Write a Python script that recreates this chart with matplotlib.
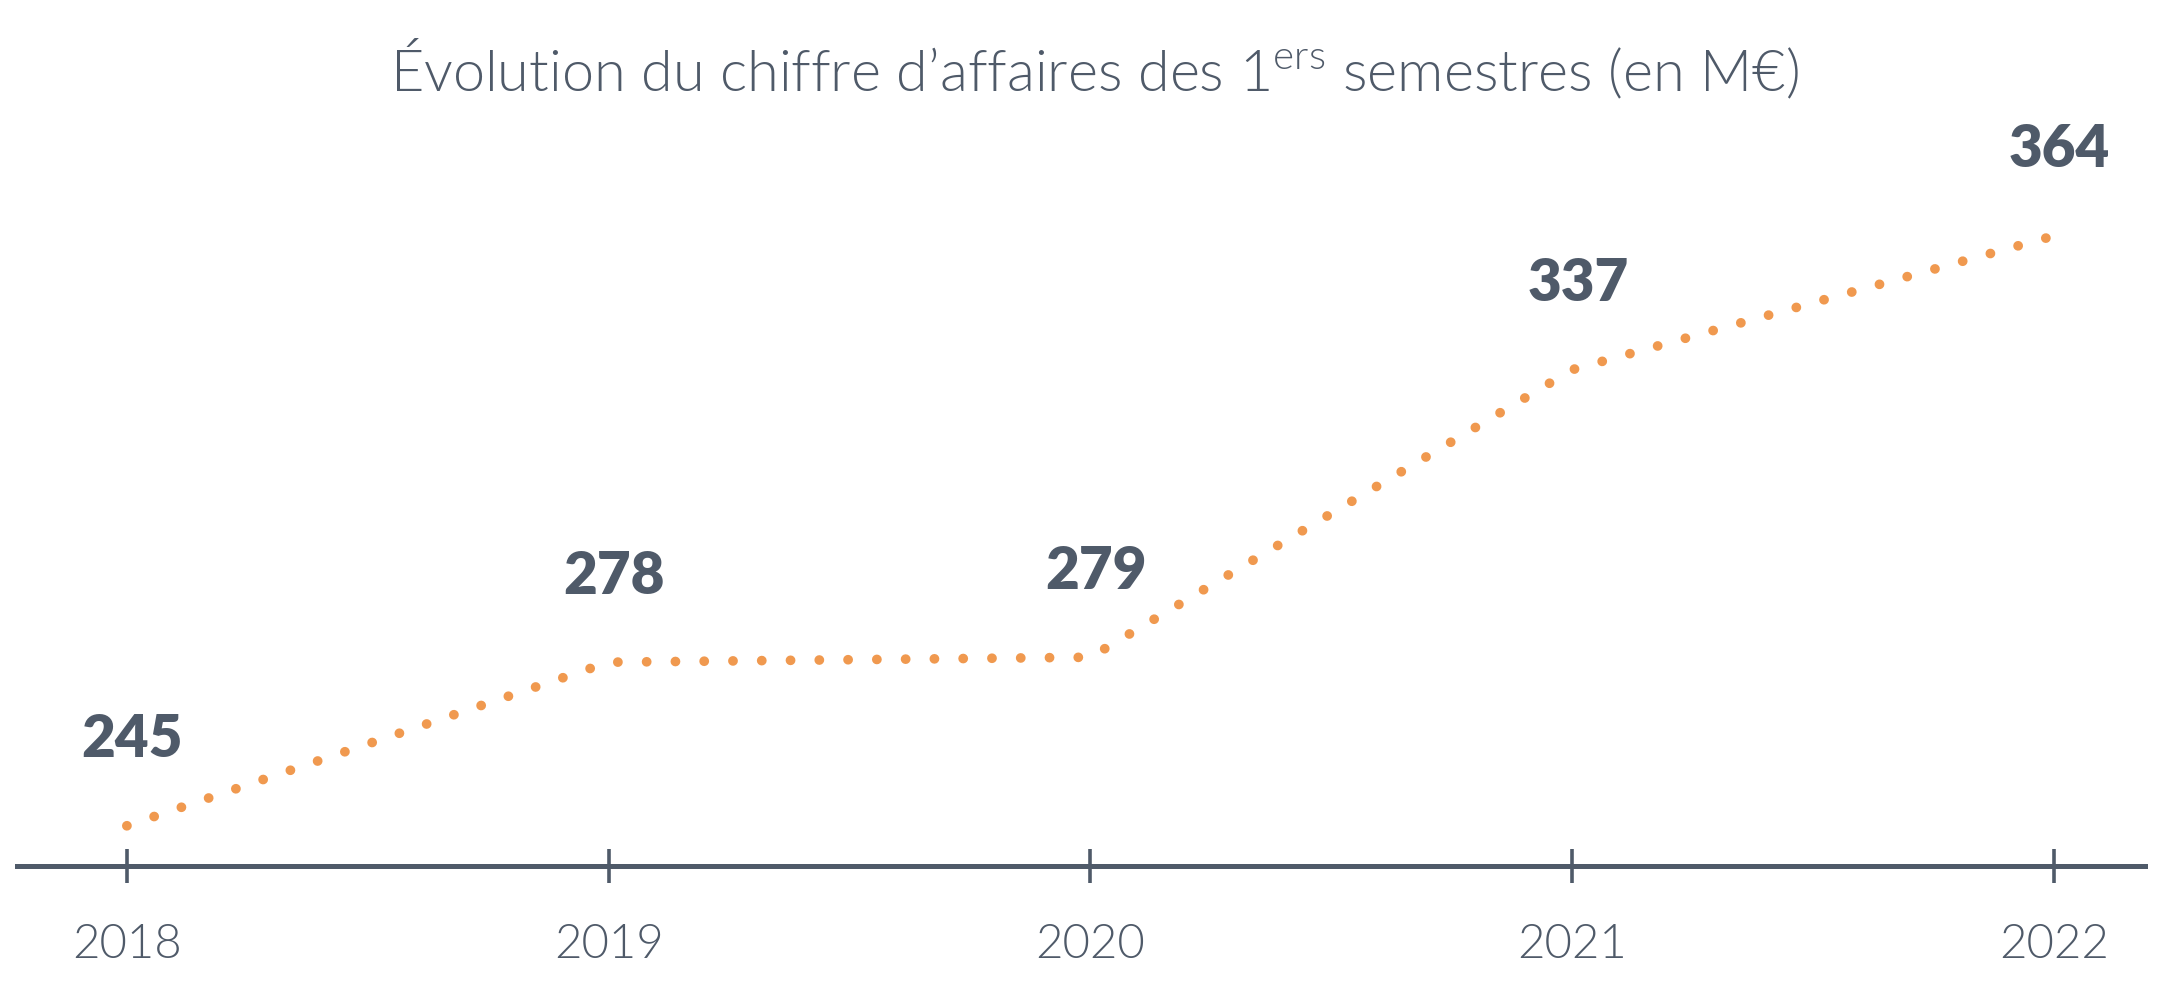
import matplotlib
matplotlib.use("Agg")
import matplotlib.pyplot as plt

years = [2018, 2019, 2020, 2021, 2022]
revenue = [245, 278, 279, 337, 364]
year_labels = ["2018", "2019", "2020", "2021", "2022"]

title = "Évolution du chiffre d’affaires des 1$^{\\mathrm{ers}}$ semestres (en M€)"

grey = "#4f5a69"
orange = "#f0994f"

plt.rcParams["font.family"] = ["Lato", "DejaVu Sans"]
plt.rcParams["mathtext.fontset"] = "custom"
plt.rcParams["mathtext.rm"] = "Lato:weight=300"

fig = plt.figure(figsize=(21.66, 9.9), dpi=100)
ax = fig.add_axes([0.00785, 0.1253, 0.9825, 0.7737])

ax.plot(years, revenue, color=orange, linewidth=7,
        linestyle=(0, (0.01, 2.95)), dash_capstyle="round")

for x, v in zip(years, revenue):
    ax.annotate(str(v), (x, v), xytext=(4, 62), textcoords="offset points",
                ha="center", va="center", fontsize=42, fontweight="heavy",
                color=grey)

ax.set_xlim(2017.772, 2022.189)
ax.set_ylim(236.9, 391.4)

for s in ["top", "right", "left"]:
    ax.spines[s].set_visible(False)
ax.spines["bottom"].set_color(grey)
ax.spines["bottom"].set_linewidth(3.6)

ax.set_yticks([])
ax.set_xticks(years)
ax.set_xticklabels(year_labels)
ax.tick_params(axis="x", direction="inout", length=24, width=2.6,
               color=grey, labelcolor=grey, labelsize=34, pad=30)
for lab in ax.get_xticklabels():
    lab.set_fontweight(300)

fig.text(0.5055, 1 - 69 / 990, title, ha="center", va="center",
         fontsize=41.4, fontweight=300, color=grey)

fig.savefig("out.png", dpi=100, facecolor="white")
